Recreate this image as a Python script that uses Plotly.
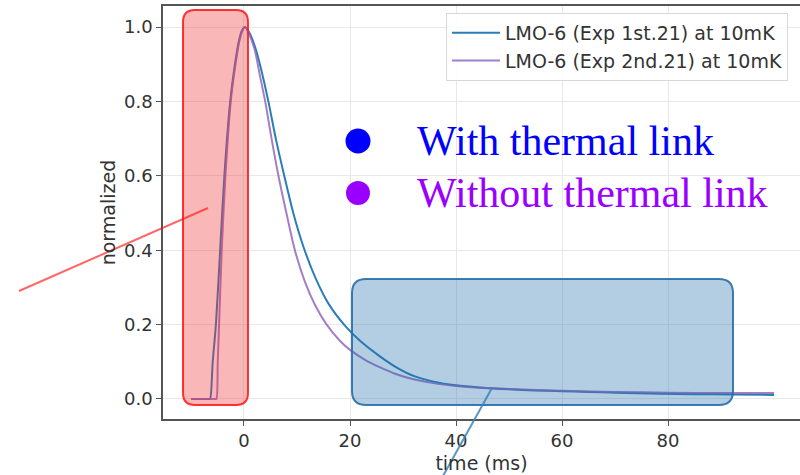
import plotly.graph_objects as go

# --- data ---
t_with = [-10, -6.6, -6.4, -5.9, -5.3, -4.5, -3.7, -2.6, -1.7, -1.0, -0.4, 0.2, 1.0, 2.0, 3.0, 4.6, 6.0,
          7.6, 9.3, 11.2, 13.5, 16.0, 19.0, 22.0, 25.7, 29.0, 32.0, 36.0, 40.0, 44.5, 50.0, 55.0,
          60.0, 65.0, 70.0, 78.5, 85.0, 92.0, 100.0]
v_with = [0, 0, 0, 0.10, 0.20, 0.40, 0.60, 0.80, 0.90, 0.96, 0.99, 1.0, 0.985, 0.95, 0.90, 0.80, 0.70,
          0.60, 0.50, 0.41, 0.325, 0.255, 0.198, 0.155, 0.114, 0.083, 0.062, 0.046, 0.037, 0.031, 0.026, 0.023,
          0.021, 0.019, 0.017, 0.014, 0.013, 0.012, 0.011]

t_without = [-10, -5.4, -5.2, -4.95, -4.7, -4.2, -3.5, -2.5, -1.6, -0.9, -0.3, 0.2, 1.0, 2.0, 3.0, 4.0, 5.2,
             6.5, 8.0, 9.6, 11.5, 13.5, 15.6, 18.0, 20.0, 23.0, 25.7, 28.5, 32.0, 36.0, 40.0, 44.5,
             50.0, 55.0, 60.0, 70.0, 80.0, 90.0, 100.0]
v_without = [0, 0, 0, 0.10, 0.20, 0.40, 0.60, 0.80, 0.90, 0.96, 0.99, 1.0, 0.98, 0.94, 0.87, 0.80, 0.70,
             0.60, 0.50, 0.40, 0.315, 0.25, 0.20, 0.158, 0.132, 0.104, 0.085, 0.068, 0.053, 0.042, 0.035, 0.030,
             0.027, 0.024, 0.022, 0.019, 0.017, 0.016, 0.016]

series_names = ["LMO-6 (Exp 1st.21) at 10mK", "LMO-6 (Exp 2nd.21) at 10mK"]
x_ticks = [0, 20, 40, 60, 80]
y_ticks = [0.0, 0.2, 0.4, 0.6, 0.8, 1.0]
label_with = "With thermal link"
label_without = "Without thermal link"

# --- figure ---
W, H = 800, 475
L, R, T, B = 163, 0, 6, 56
PW, PH = W - L - R, H - T - B
XR = [-15.28, 104.9]
YR = [-0.0538, 1.0565]


def px(xp):  # pixel x -> paper
    return (xp - L) / PW


def py(yp):  # pixel y -> paper
    return (H - B - yp) / PH


def rounded(x0, x1, y0, y1, rx, ry):
    return (f"M {x0+rx},{y0} L {x1-rx},{y0} Q {x1},{y0} {x1},{y0+ry} "
            f"L {x1},{y1-ry} Q {x1},{y1} {x1-rx},{y1} L {x0+rx},{y1} "
            f"Q {x0},{y1} {x0},{y1-ry} L {x0},{y0+ry} Q {x0},{y0} {x0+rx},{y0} Z")


fig = go.Figure()
fig.add_trace(go.Scatter(x=t_with, y=v_with, mode="lines", name=series_names[0],
                         line=dict(color="rgba(31,119,180,0.95)", width=2, shape="spline", smoothing=0.8)))
fig.add_trace(go.Scatter(x=t_without, y=v_without, mode="lines", name=series_names[1],
                         line=dict(color="rgba(148,103,189,0.85)", width=2, shape="spline", smoothing=0.8)))

shapes = []
# red box (paper coords)
shapes.append(dict(type="path", xref="paper", yref="paper", layer="above",
                   path=rounded(px(183), px(248), py(405), py(10), 12 / PW, 12 / PH),
                   fillcolor="rgba(240,50,50,0.35)", line=dict(color="rgba(255,30,30,0.9)", width=2)))
# blue box
shapes.append(dict(type="path", xref="paper", yref="paper", layer="above",
                   path=rounded(px(352), px(733), py(405), py(279), 14 / PW, 14 / PH),
                   fillcolor="rgba(31,110,170,0.34)", line=dict(color="rgba(40,110,170,0.9)", width=2)))
# pointer lines
shapes.append(dict(type="line", xref="paper", yref="paper", layer="above",
                   x0=px(19), y0=py(291), x1=px(208), y1=py(208),
                   line=dict(color="rgba(255,20,20,0.65)", width=2)))
shapes.append(dict(type="line", xref="paper", yref="paper", layer="above",
                   x0=px(492), y0=py(388), x1=px(443), y1=py(476),
                   line=dict(color="rgba(60,130,190,0.85)", width=2)))
# dots
for cx, cy, r, col in [(358, 141, 12.5, "#0000ff"), (358, 193, 12, "#9900ff")]:
    shapes.append(dict(type="circle", xref="paper", yref="paper", layer="above",
                       x0=px(cx - r), x1=px(cx + r), y0=py(cy + r), y1=py(cy - r),
                       fillcolor=col, line=dict(width=0)))

annotations = [
    dict(text=label_with, xref="paper", yref="paper", x=px(415), y=py(141), xanchor="left",
         yanchor="middle", showarrow=False,
         font=dict(family="Liberation Serif", size=42, color="#0000ff")),
    dict(text=label_without, xref="paper", yref="paper", x=px(415), y=py(193), xanchor="left",
         yanchor="middle", showarrow=False,
         font=dict(family="Liberation Serif", size=42, color="#9900ff")),
]

axis_common = dict(showgrid=True, gridcolor="#e8e8e8", gridwidth=1, zeroline=False,
                   showline=True, linecolor="#555", linewidth=1.5,
                   ticks="outside", ticklen=5, tickcolor="#555",
                   tickfont=dict(family="DejaVu Sans", size=18, color="#333"))

fig.update_layout(
    width=W, height=H, margin=dict(l=L, r=R, t=T, b=B),
    paper_bgcolor="white", plot_bgcolor="white",
    shapes=shapes, annotations=annotations,
    legend=dict(x=px(788), y=py(13), xanchor="right", yanchor="top", itemwidth=48,
                bgcolor="rgba(255,255,255,0.85)", bordercolor="#d8d8d8", borderwidth=1,
                font=dict(family="DejaVu Sans", size=19, color="#333")),
    xaxis=dict(range=XR, tickvals=x_ticks, mirror=True,
               title=dict(text="time (ms)", standoff=6,
                          font=dict(family="DejaVu Sans", size=19, color="#333")),
               **axis_common),
    yaxis=dict(range=YR, tickvals=y_ticks, tickformat=".1f",
               title=dict(text="normalized", standoff=3,
                          font=dict(family="DejaVu Sans", size=19, color="#333")),
               **axis_common),
)

fig.write_html("out.html")
